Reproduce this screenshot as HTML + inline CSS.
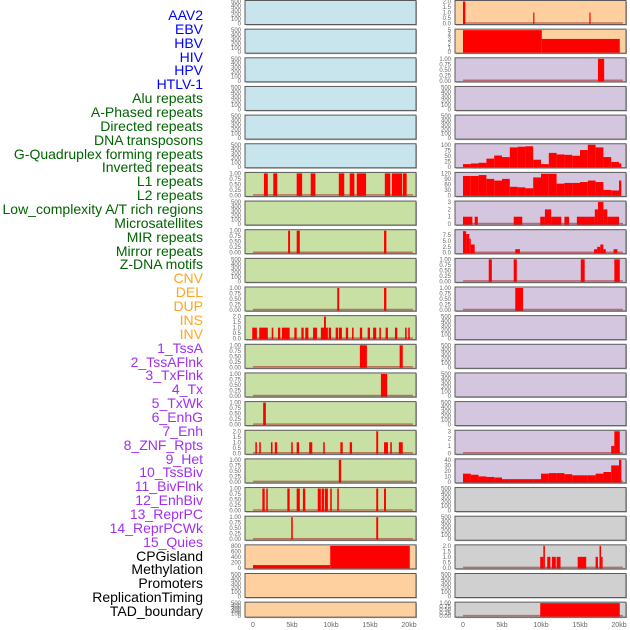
<!DOCTYPE html>
<html><head><meta charset="utf-8">
<style>
html,body{margin:0;padding:0;background:#fff;}
#wrap{position:relative;width:630px;height:630px;overflow:hidden;}
.lab{position:absolute;right:427px;font:14px "Liberation Sans",sans-serif;white-space:nowrap;line-height:14px;}
</style></head>
<body>
<div id="wrap">
<svg id="chart" width="630" height="630" style="position:absolute;left:0;top:0"></svg>
</div>
<script>
// ---- labels ----
const trackLabels = ["AAV2","EBV","HBV","HIV","HPV","HTLV-1","Alu repeats","A-Phased repeats","Directed repeats","DNA transposons","G-Quadruplex forming repeats","Inverted repeats","L1 repeats","L2 repeats","Low_complexity A/T rich regions","Microsatellites","MIR repeats","Mirror repeats","Z-DNA motifs","CNV","DEL","DUP","INS","INV","1_TssA","2_TssAFlnk","3_TxFlnk","4_Tx","5_TxWk","6_EnhG","7_Enh","8_ZNF_Rpts","9_Het","10_TssBiv","11_BivFlnk","12_EnhBiv","13_ReprPC","14_ReprPCWk","15_Quies","CPGisland","Methylation","Promoters","ReplicationTiming","TAD_boundary"];
const labelColors = ["#0000ff","#006400","#ffa520","#a030f0","#000000"];
const labelGroup = [0,0,0,0,0,0,1,1,1,1,1,1,1,1,1,1,1,1,1,2,2,2,2,2,3,3,3,3,3,3,3,3,3,3,3,3,3,3,3,4,4,4,4,4];
// ---- panel styling ----
const panelBg = ["#c8e4ec","#c9e0a5","#ffd09f","#d5c6e0","#d0d0d0"];
// background group per panel (left 0-21, right 22-43)
const panelBgGroup = [0,0,0,0,0,0,1,1,1,1,1,1,1,1,1,1,1,1,1,2,2,2, 2,2,3,3,3,3,3,3,3,3,3,3,3,3,3,3,3,4,4,4,4,4];
// ---- tick sets ----
const T500=[0,100,200,300,400,500], T1=[0,0.25,0.5,0.75,1], T2=[0,0.5,1,1.5,2];
const panelTicks = [T500,T500,T500,T500,T500,T500,T1,T500,T1,T500,T1,T2,T1,T1,T1,T2,T1,T1,T1,[0,200,400,600,800],T500,T500,
 T2,[0,1,2,3,4,5],T1,T500,T500,[0,25,50,75,100],[0,30,60,90,120],[0,1,2,3],[0,2.5,5,7.5],T1,T1,T500,T500,T500,T500,[0,1,2,3],[0,10,20,30,40],T500,T500,T2,T500,T1];
const panelYMax = {30:9.4};
// ---- segment data: [startKb, endKb, value] ----
const panelSegs = {
6:[[1.4,1.9,1],[2.6,3.1,1],[5.6,6.3,1],[7.4,8,1],[11,11.7,1],[12.4,13,1],[13.3,14.5,1],[16.9,17.6,1],[17.8,19.1,1],[19.2,19.7,1]],
8:[[4.5,4.75,1],[5.6,6,1],[16.8,17.1,1]],
10:[[10.8,11.05,1],[16.8,17.1,1]],
11:[[-0.1,0.5,1],[0.8,1.9,1],[2.4,2.6,1],[3.2,3.5,1],[3.7,4.7,1],[5.3,5.6,1],[6.2,6.5,1],[6.7,7.1,1],[7.7,8.2,1],[8.7,9.6,1],[9.1,9.35,2],[9.7,10,1],[10.6,10.9,1],[11,11.4,1],[11.9,12.2,1],[12.7,12.9,1],[13.7,14,1],[14.7,15,1],[15.4,15.8,1],[16.2,16.4,1],[17,17.3,1],[18.2,18.5,1],[19.5,19.7,1],[19.9,20.1,1]],
12:[[13.7,14.6,1],[18.8,19.2,1]],
13:[[16.4,17.2,1]],
14:[[1.3,1.65,1]],
15:[[0.3,0.5,1],[0.8,1,1],[2.3,2.5,1],[2.8,3.1,1],[4.9,5.1,1],[5.6,5.9,1],[7.2,7.6,1],[9,9.2,1],[11.2,11.5,1],[12.4,12.7,1],[15.8,16.05,2],[16.8,17.3,1],[17.6,17.8,1],[18.7,19.2,1]],
16:[[11,11.3,1]],
17:[[1.2,1.5,1],[1.7,1.9,1],[4.4,4.7,1],[5.6,6,1],[6.4,6.7,1],[8.3,8.7,1],[8.8,9.1,1],[9.2,9.6,1],[9.9,10.1,1],[10.8,11,1],[15.8,16.05,1],[16.8,17.05,1]],
18:[[4.9,5.1,1],[15.8,16.05,1]],
19:[[0,9.9,100],[9.9,20.1,800]],
22:[[0,0.3,2],[9,9.15,1],[16.2,16.35,1]],
23:[[0,10.1,5],[10.1,20.1,3]],
24:[[17.3,18.1,1]],
29:[[0,1.2,1],[1.5,1.9,1],[6.5,7.6,1],[9.9,10.5,1],[10.5,11.3,2],[11.3,12.6,1],[13,13.6,1],[14.6,16.9,1],[16.9,17.3,2],[17.3,18,3],[18,18.5,2],[18.5,20,1]],
30:[[0,0.4,9.2],[0.4,0.8,8],[0.8,1,6],[1,1.5,3.5],[6.7,7.3,1.5],[16.8,17.2,1.5],[17.2,17.6,2.5],[17.6,18,3.5],[18,18.3,1.5],[19.3,19.8,1.5]],
31:[[3.3,3.7,1],[6.5,6.9,1],[15.1,15.6,1],[19.4,20.1,1]],
32:[[6.7,7.7,1]],
37:[[19,19.4,1],[19.4,20.1,3]],
41:[[9.9,10.3,1],[10.3,10.5,2],[10.8,11.2,1],[11.4,11.9,1],[12,12.5,1],[14.7,15.8,1],[17,17.3,1],[17.5,17.7,2],[17.7,17.9,1]],
43:[[9.9,20.1,1]]
};
// ---- continuous profiles (1 kb bins starting at 0 kb) ----
const gquadProfile = [12,15,18,37,51,44,88,91,93,32,12,63,56,54,50,76,100,88,44,22,15];
const l1Profile = [106,106,111,90,81,90,47,44,39,98,118,118,64,68,68,73,81,73,30,27,81];
const hetProfile = [15,13,10,9,8,5,5,5,5,5,15,16,16,14,12,12,12,15,18,30,40];
const profilePanels = {27:gquadProfile,28:l1Profile,38:hetProfile};
const xTickLabels = ["0","5kb","10kb","15kb","20kb"];
const xTickKb = [0,5,10,15,20];
const baselinePanels = [6,8,10,11,12,13,14,15,16,17,18,22,24,29,30,31,32,37,38,41,43];

// ---- layout ----
const NS="http://www.w3.org/2000/svg";
const svg=document.getElementById('chart');
const colX=[245,455], panelW=171, pitch=28.65;
function panelRect(i){const col=i<22?0:1,row=i%22;const y=0.5+pitch*row;const h=row===21?15:24;return {x:colX[col],y:y,w:panelW,h:h};}
function xScale(r,kb){return r.x+8+kb*7.8;}
function yScale(r,v,ymax){return r.y+r.h-1-(v/ymax)*(r.h-2);}
function mk(tag,attrs){const e=document.createElementNS(NS,tag);for(const k in attrs)e.setAttribute(k,attrs[k]);return e;}

const wrap=document.getElementById('wrap');
trackLabels.forEach((t,i)=>{
  const d=document.createElement('div');
  d.className='lab';
  d.style.top=(8+i*13.86)+'px';
  d.style.color=labelColors[labelGroup[i]];
  d.textContent=t;
  
  
  wrap.appendChild(d);
});

for(let i=0;i<44;i++){
  const r=panelRect(i);
  const g=mk('g',{});
  
  
  svg.appendChild(g);
  g.appendChild(mk('rect',{x:r.x+1,y:r.y+1,width:r.w,height:r.h,fill:'#aaa'}));
  g.appendChild(mk('rect',{x:r.x,y:r.y,width:r.w,height:r.h,fill:panelBg[panelBgGroup[i]],stroke:'#5a5a5a','stroke-width':1}));
  const ticks=panelTicks[i];
  const ymax=panelYMax[i]!==undefined?panelYMax[i]:ticks[ticks.length-1];
  ticks.forEach(v=>{
    const ty=yScale(r,v,ymax);
    const t=mk('text',{x:r.x-4,y:ty+2,'text-anchor':'end','font-size':'6','font-family':'Liberation Sans, sans-serif',fill:'#666'});
    t.textContent=(ticks===T1)?v.toFixed(2):(ticks===T2||ticks===panelTicks[30]?v.toFixed(1):String(v));
    
    
    g.appendChild(t);
  });
  if(baselinePanels.indexOf(i)>=0){
    const bl=mk('line',{x1:xScale(r,0),x2:xScale(r,20.5),y1:r.y+r.h-1.5,y2:r.y+r.h-1.5,stroke:'rgba(170,30,30,0.55)','stroke-width':1.5});
    
    
    g.appendChild(bl);
  }
  const segs=(panelSegs[i]||[]).slice();
  const prof=profilePanels[i];
  if(prof){prof.forEach((v,k)=>{segs.push([k,Math.min(k+1,20.3),v]);});}
  segs.forEach(s=>{
    const x0=xScale(r,s[0]),x1=xScale(r,s[1]);
    const y0=yScale(r,s[2],ymax);
    const b=mk('rect',{x:x0,y:y0,width:Math.max(1.2,x1-x0),height:r.y+r.h-0.5-y0,fill:'#ff0000'});
    
    
    g.appendChild(b);
  });
}
[0,1].forEach(c=>{
  const r={x:colX[c]};
  xTickKb.forEach((kb,j)=>{
    const t=mk('text',{x:xScale(r,kb),y:627,'text-anchor':'middle','font-size':'7','font-family':'Liberation Sans, sans-serif',fill:'#666'});
    t.textContent=xTickLabels[j];
    
    
    svg.appendChild(t);
  });
});
</script>
</body></html>
